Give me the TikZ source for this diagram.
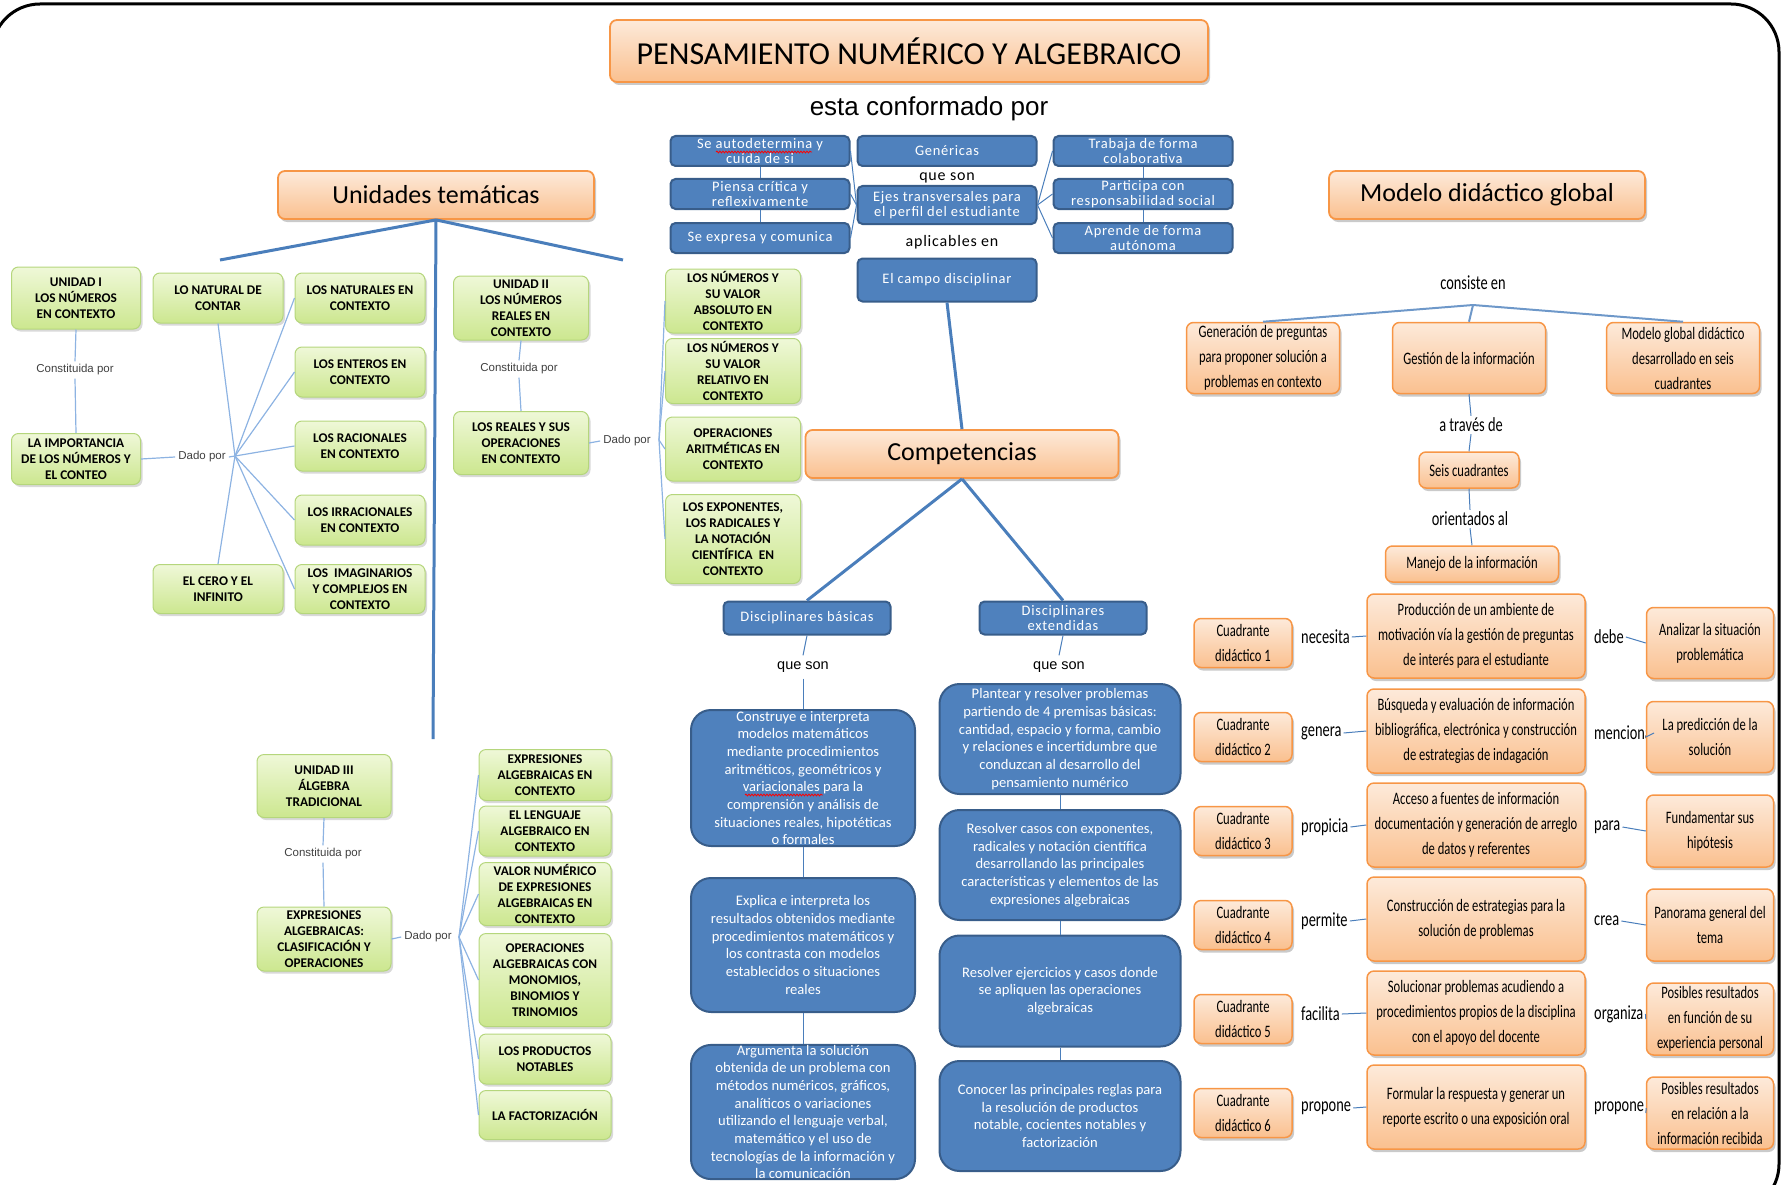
\documentclass[tikz,border=0pt]{standalone}
\usepackage{fontspec}
\setmainfont{Carlito}
\newfontfamily\condf[FakeStretch=0.72]{Carlito}
\newfontfamily\arialf{Liberation Sans}
\newfontfamily\bluef[LetterSpace=5]{Carlito}
\usetikzlibrary{shadows,decorations.pathmorphing}
\newcommand\fsz[2]{\fontsize{#1}{#2}\selectfont}
\definecolor{orTop}{HTML}{FDEADA}
\definecolor{orBot}{HTML}{FAC08F}
\definecolor{orLine}{HTML}{F79646}
\definecolor{blFill}{HTML}{4F81BD}
\definecolor{blLine}{HTML}{385D8A}
\definecolor{grTop}{HTML}{EFF8D8}
\definecolor{grBot}{HTML}{CCE78F}
\definecolor{grLine}{HTML}{B5D67C}
\definecolor{lnBlue}{HTML}{4A7EBB}
\definecolor{lnLight}{HTML}{8DB3E2}
\definecolor{lblGray}{HTML}{404040}
\tikzset{
 sz/.style 2 args={minimum width=#1pt,minimum height=#2pt},
 orbox/.style={rounded corners=7pt, top color=orTop, bottom color=orBot, draw=orLine, line width=1.8pt,
   drop shadow={shadow xshift=2pt, shadow yshift=-3pt, opacity=0.35, fill=black!60}, align=center, inner sep=0pt},
 grbox/.style={rounded corners=7pt, top color=grTop, bottom color=grBot, draw=grLine, line width=1pt,
   drop shadow={shadow xshift=2pt, shadow yshift=-2.5pt, opacity=0.3, fill=black!50}, align=center, inner sep=0pt,
   font=\bfseries\fsz{13.3}{16}},
 blbox/.style={rounded corners=5pt, fill=blFill, draw=blLine, line width=2pt, text=white, align=center,
   inner sep=0pt, font=\bluef\fsz{14.5}{15}},
 bigbl/.style={blbox, rounded corners=20pt, font=\fsz{14.6}{17.7}},
 lbl/.style={text=lblGray, font=\arialf\fsz{11.5}{13}, inner sep=3pt},
 plain/.style={font=\bluef\fsz{16}{19}, inner sep=3pt},
 qson/.style={font=\arialf\fsz{14.5}{16}, inner sep=6pt},
 rlbl/.style={font=\condf\fsz{20}{22}, inner sep=2pt},
 cbox/.style={orbox, line width=1.5pt, font=\condf\fsz{17.5}{25}},
 conmain/.style={draw=lnBlue, line width=3pt},
 congr/.style={draw=lnLight, line width=1.2pt},
 conbl/.style={draw=lnBlue, line width=1pt},
 conmid/.style={draw=lnBlue!80, line width=2pt},
 spell/.style={draw=red, line width=0.8pt, decorate, decoration={snake, amplitude=0.9pt, segment length=3pt}},
}
\begin{document}
\begin{tikzpicture}[x=1pt,y=-1pt]
\useasboundingbox (0,0) rectangle (1787,1185);
\draw[line width=3pt, rounded corners=48pt] (-8,4) rectangle (1779,1212);

% ---------- headings
\node[orbox, sz={598}{62}, font=\fsz{32}{36}] (title) at (909,51) {PENSAMIENTO NUMÉRICO Y ALGEBRAICO};
\node[font=\arialf\fsz{26}{30}] (conf) at (929,109) {esta conformado por};
\node[orbox, sz={316}{48}, font=\fsz{26}{30}] (unid) at (436,195) {Unidades temáticas};
\node[orbox, sz={316}{48}, font=\fsz{26}{30}] (model) at (1487,195) {Modelo didáctico global};
\node[orbox, sz={313}{48}, font=\fsz{26}{30}] (comp) at (962,454) {Competencias};

% ---------- top blue boxes
\node[blbox, sz={179}{30}] (sa) at (760,151) {Se autodetermina y\\cuida de si};
\node[blbox, sz={179}{30}] (gen) at (947,151) {Genéricas};
\node[blbox, sz={179}{30}] (tra) at (1143,151) {Trabaja de forma\\colaborativa};
\node[blbox, sz={179}{30}] (pie) at (760,194) {Piensa crítica y\\reflexivamente};
\node[blbox, sz={179}{38}] (ejes) at (947,205) {Ejes transversales para\\el perfil del estudiante};
\node[blbox, sz={179}{30}] (par) at (1143,194) {Participa con\\responsabilidad social};
\node[blbox, sz={179}{30}] (sex) at (760,238) {Se expresa y comunica};
\node[blbox, sz={179}{30}] (apr) at (1143,238) {Aprende de forma\\autónoma};
\node[plain] (qs1) at (947,178) {que son};
\node[plain] (aplic) at (952,242) {aplicables en};
\node[blbox, sz={179}{43}] (campo) at (947,280) {El campo disciplinar};

\draw[conbl] (sa.south) -- (pie.north);
\draw[conbl] (pie.south) -- (sex.north);
\draw[conbl] (tra.south) -- (par.north);
\draw[conbl] (par.south) -- (apr.north);
\draw[conbl] (ejes.west) -- (sa.east);
\draw[conbl] (ejes.west) -- (pie.east);
\draw[conbl] (ejes.west) -- (sex.east);
\draw[conbl] (ejes.east) -- (tra.west);
\draw[conbl] (ejes.east) -- (par.west);
\draw[conbl] (ejes.east) -- (apr.west);
\draw[conmain] (campo.south) -- (comp.north);

% ---------- competencias
\node[blbox, sz={167}{33}] (db) at (807,618) {Disciplinares básicas};
\node[blbox, sz={167}{33}] (de) at (1063,618) {Disciplinares\\extendidas};
\draw[conmain] (comp.south) -- (db.north);
\draw[conmain] (comp.south) -- (de.north);
\node[qson] (qs2) at (803,667) {que son};
\node[qson] (qs3) at (1059,667) {que son};
\draw[conbl] (db.south) -- (qs2.north);
\draw[conbl] (de.south) -- (qs3.north);

\node[bigbl, sz={224}{136}] (b1) at (803,778) {Construye e interpreta\\modelos matemáticos\\mediante procedimientos\\aritméticos, geométricos y\\variacionales para la\\comprensión y análisis de\\situaciones reales, hipotéticas\\o formales};
\node[bigbl, sz={224}{134}] (b2) at (803,945) {Explica e interpreta los\\resultados obtenidos mediante\\procedimientos matemáticos y\\los contrasta con modelos\\establecidos o situaciones\\reales};
\node[bigbl, sz={224}{134}] (b3) at (803,1112) {Argumenta la solución\\obtenida de un problema con\\métodos numéricos, gráficos,\\analíticos o variaciones\\utilizando el lenguaje verbal,\\matemático y el uso de\\tecnologías de la información y\\la comunicación};
\draw[conbl] (qs2.south) -- (b1.north);
\draw[conbl] (b1.south) -- (b2.north);
\draw[conbl] (b2.south) -- (b3.north);

% spell-check underlines as printed
\draw[spell] (716,152) -- (812,152);
\draw[spell] (745,795) -- (823,795);

\node[bigbl, sz={241}{110}] (ba) at (1060,739) {Plantear y resolver problemas\\partiendo de 4 premisas básicas:\\cantidad, espacio y forma, cambio\\y relaciones e incertidumbre que\\conduzcan al desarrollo del\\pensamiento numérico};
\node[bigbl, sz={241}{110}] (bb) at (1060,865) {Resolver casos con exponentes,\\radicales y notación científica\\desarrollando las principales\\características y elementos de las\\expresiones algebraicas};
\node[bigbl, sz={241}{111}] (bc) at (1060,991) {Resolver ejercicios y casos donde\\se apliquen las operaciones\\algebraicas};
\node[bigbl, sz={241}{110}] (bd) at (1060,1116) {Conocer las principales reglas para\\la resolución de productos\\notable, cocientes notables y\\factorización};
\draw[conbl] (ba.south) -- (bb.north);
\draw[conbl] (bb.south) -- (bc.north);
\draw[conbl] (bc.south) -- (bd.north);

% ---------- unidades connectors
\coordinate (ul) at (220,260);
\coordinate (ur) at (623,260);
\coordinate (ud) at (433,739);
\draw[conmain] (unid.south) -- (ul);
\draw[conmain] (unid.south) -- (ur);
\draw[conmain] (unid.south) -- (ud);

% ---------- Unidad I
\node[grbox, sz={129}{62}] (u1) at (76,298) {UNIDAD I\\LOS NÚMEROS\\EN CONTEXTO};
\node[grbox, sz={129}{51}] (imp) at (76,459) {LA IMPORTANCIA\\DE LOS NÚMEROS Y\\EL CONTEO};
\node[lbl] (cp1) at (75,370) {Constituida por};
\node[lbl] (dp1) at (202,457) {Dado por};
\coordinate (hub1) at (235,456);
\node[grbox, sz={130}{50}] (nat) at (218,298) {LO NATURAL DE\\CONTAR};
\node[grbox, sz={130}{49}] (cero) at (218,589) {EL CERO Y EL\\INFINITO};
\node[grbox, sz={130}{50}] (r1) at (360,298) {LOS NATURALES EN\\CONTEXTO};
\node[grbox, sz={130}{50}] (r2) at (360,372) {LOS ENTEROS EN\\CONTEXTO};
\node[grbox, sz={130}{50}] (r3) at (360,446) {LOS RACIONALES\\EN CONTEXTO};
\node[grbox, sz={130}{50}] (r4) at (360,520) {LOS IRRACIONALES\\EN CONTEXTO};
\node[grbox, sz={130}{49}] (r5) at (360,589) {LOS\ \ IMAGINARIOS\\Y COMPLEJOS EN\\CONTEXTO};
\draw[congr] (u1.south) -- (cp1.north);
\draw[congr] (cp1.south) -- (imp.north);
\draw[congr] (imp.east) -- (dp1.west);
\draw[congr] (dp1.east) -- (hub1);
\foreach \t in {nat.south, cero.north, r1.west, r2.west, r3.west, r4.west, r5.west}
  \draw[congr] (hub1) -- (\t);

% ---------- Unidad II
\node[grbox, sz={135}{64}] (u2) at (521,308) {UNIDAD II\\LOS NÚMEROS\\REALES EN\\CONTEXTO};
\node[grbox, sz={135}{63}] (rea) at (521,443) {LOS REALES Y SUS\\OPERACIONES\\EN CONTEXTO};
\node[lbl] (cp2) at (519,369) {Constituida por};
\node[lbl] (dp2) at (627,441) {Dado por};
\coordinate (hub2) at (659,440);
\node[grbox, sz={135}{64}] (g1) at (733,301) {LOS NÚMEROS Y\\SU VALOR\\ABSOLUTO EN\\CONTEXTO};
\node[grbox, sz={135}{65}] (g2) at (733,371) {LOS NÚMEROS Y\\SU VALOR\\RELATIVO EN\\CONTEXTO};
\node[grbox, sz={135}{64}] (g3) at (733,449) {OPERACIONES\\ARITMÉTICAS EN\\CONTEXTO};
\node[grbox, sz={135}{89}] (g4) at (733,539) {LOS EXPONENTES,\\LOS RADICALES Y\\LA NOTACIÓN\\CIENTÍFICA\ \ EN\\CONTEXTO};
\draw[congr] (u2.south) -- (cp2.north);
\draw[congr] (cp2.south) -- (rea.north);
\draw[congr] (rea.east) -- (dp2.west);
\foreach \t in {g1.west, g2.west, g3.west, g4.west}
  \draw[congr] (hub2) -- (\t);

% ---------- Unidad III
\node[grbox, sz={134}{63}] (u3) at (324,786) {UNIDAD III\\ÁLGEBRA\\TRADICIONAL};
\node[grbox, sz={134}{64}] (expr) at (324,939) {EXPRESIONES\\ALGEBRAICAS:\\CLASIFICACIÓN Y\\OPERACIONES};
\node[lbl] (cp3) at (323,854) {Constituida por};
\node[lbl] (dp3) at (428,937) {Dado por};
\coordinate (hub3) at (459,937);
\node[grbox, sz={132}{51}] (h1) at (545,775) {EXPRESIONES\\ALGEBRAICAS EN\\CONTEXTO};
\node[grbox, sz={132}{50}] (h2) at (545,831) {EL LENGUAJE\\ALGEBRAICO EN\\CONTEXTO};
\node[grbox, sz={132}{63}] (h3) at (545,894) {VALOR NUMÉRICO\\DE EXPRESIONES\\ALGEBRAICAS EN\\CONTEXTO};
\node[grbox, sz={132}{93}] (h4) at (545,980) {OPERACIONES\\ALGEBRAICAS CON\\MONOMIOS,\\BINOMIOS Y\\TRINOMIOS};
\node[grbox, sz={132}{50}] (h5) at (545,1059) {LOS PRODUCTOS\\NOTABLES};
\node[grbox, sz={132}{49}] (h6) at (545,1115) {LA FACTORIZACIÓN};
\draw[congr] (u3.south) -- (cp3.north);
\draw[congr] (cp3.south) -- (expr.north);
\draw[congr] (expr.east) -- (dp3.west);
\foreach \t in {h1.west, h2.west, h3.west, h4.west, h5.west, h6.west}
  \draw[congr] (hub3) -- (\t);

% ---------- Modelo didactico global
\node[rlbl] (cons) at (1473,283) {consiste en};
\coordinate (hub4) at (1473,305);
\node[cbox, sz={153}{71}] (gp) at (1263,358) {Generación de preguntas\\para proponer solución a\\problemas en contexto};
\node[cbox, sz={153}{71}] (gi) at (1469,358) {Gestión de la información};
\node[cbox, sz={153}{71}] (mg) at (1683,358) {Modelo global didáctico\\desarrollado en seis\\cuadrantes};
\draw[conmid] (hub4) -- (gp.north);
\draw[conmid] (hub4) -- (gi.north);
\draw[conmid] (hub4) -- (mg.north);
\node[rlbl] (atr) at (1471,425) {a través de};
\node[cbox, sz={100}{36}] (seis) at (1469,470) {Seis cuadrantes};
\node[rlbl] (ori) at (1470,519) {orientados al};
\node[cbox, sz={173}{36}] (man) at (1472,564) {Manejo de la información};
\draw[conbl] (gi.south) -- (atr.north);
\draw[conbl] (atr.south) -- (seis.north);
\draw[conbl] (seis.south) -- (ori.north);
\draw[conbl] (ori.south) -- (man.north);

% rows
\node[cbox, sz={98}{49}] (c1) at (1243,643) {Cuadrante\\didáctico 1};
\node[rlbl, anchor=west] (l1) at (1299,637) {necesita};
\node[rlbl, anchor=west] (m1) at (1592,637) {debe};
\node[cbox, sz={218}{84}] (p1) at (1476,636) {Producción de un ambiente de\\motivación vía la gestión de preguntas\\de interés para el estudiante};
\node[cbox, sz={127}{71}] (q1) at (1710,643) {Analizar la situación\\problemática};

\node[cbox, sz={98}{49}] (c2) at (1243,737) {Cuadrante\\didáctico 2};
\node[rlbl, anchor=west] (l2) at (1299,733) {genera};
\node[rlbl, anchor=west] (m2) at (1592,733) {menciona};
\node[cbox, sz={218}{84}] (p2) at (1476,731) {Búsqueda y evaluación de información\\bibliográfica, electrónica y construcción\\de estrategias de indagación};
\node[cbox, sz={127}{71}] (q2) at (1710,737) {La predicción de la\\solución};

\node[cbox, sz={98}{49}] (c3) at (1243,831) {Cuadrante\\didáctico 3};
\node[rlbl, anchor=west] (l3) at (1299,827) {propicia};
\node[rlbl, anchor=west] (m3) at (1592,827) {para};
\node[cbox, sz={218}{84}] (p3) at (1476,825) {Acceso a fuentes de información\\documentación y generación de arreglo\\de datos y referentes};
\node[cbox, sz={127}{72}] (q3) at (1710,831) {Fundamentar sus\\hipótesis};

\node[cbox, sz={98}{49}] (c4) at (1243,925) {Cuadrante\\didáctico 4};
\node[rlbl, anchor=west] (l4) at (1299,921) {permite};
\node[rlbl, anchor=west] (m4) at (1592,921) {crea};
\node[cbox, sz={218}{84}] (p4) at (1476,919) {Construcción de estrategias para la\\solución de problemas};
\node[cbox, sz={127}{72}] (q4) at (1710,925) {Panorama general del\\tema};

\node[cbox, sz={98}{49}] (c5) at (1243,1019) {Cuadrante\\didáctico 5};
\node[rlbl, anchor=west] (l5) at (1299,1014) {facilita};
\node[rlbl, anchor=west] (m5) at (1592,1014) {organiza};
\node[cbox, sz={218}{84}] (p5) at (1476,1013) {Solucionar problemas acudiendo a\\procedimientos propios de la disciplina\\con el apoyo del docente};
\node[cbox, sz={127}{72}] (q5) at (1710,1019) {Posibles resultados\\en función de su\\experiencia personal};

\node[cbox, sz={98}{49}] (c6) at (1243,1113) {Cuadrante\\didáctico 6};
\node[rlbl, anchor=west] (l6) at (1299,1108) {propone};
\node[rlbl, anchor=west] (m6) at (1592,1108) {propone};
\node[cbox, sz={218}{84}] (p6) at (1476,1107) {Formular la respuesta y generar un\\reporte escrito o una exposición oral};
\node[cbox, sz={127}{72}] (q6) at (1710,1113) {Posibles resultados\\en relación a la\\información recibida};

\foreach \i in {1,...,6} {
  \draw[conbl] (l\i.east) -- (p\i.west);
  \draw[conbl] (m\i.east) -- (q\i.west);
}
\end{tikzpicture}
\end{document}
